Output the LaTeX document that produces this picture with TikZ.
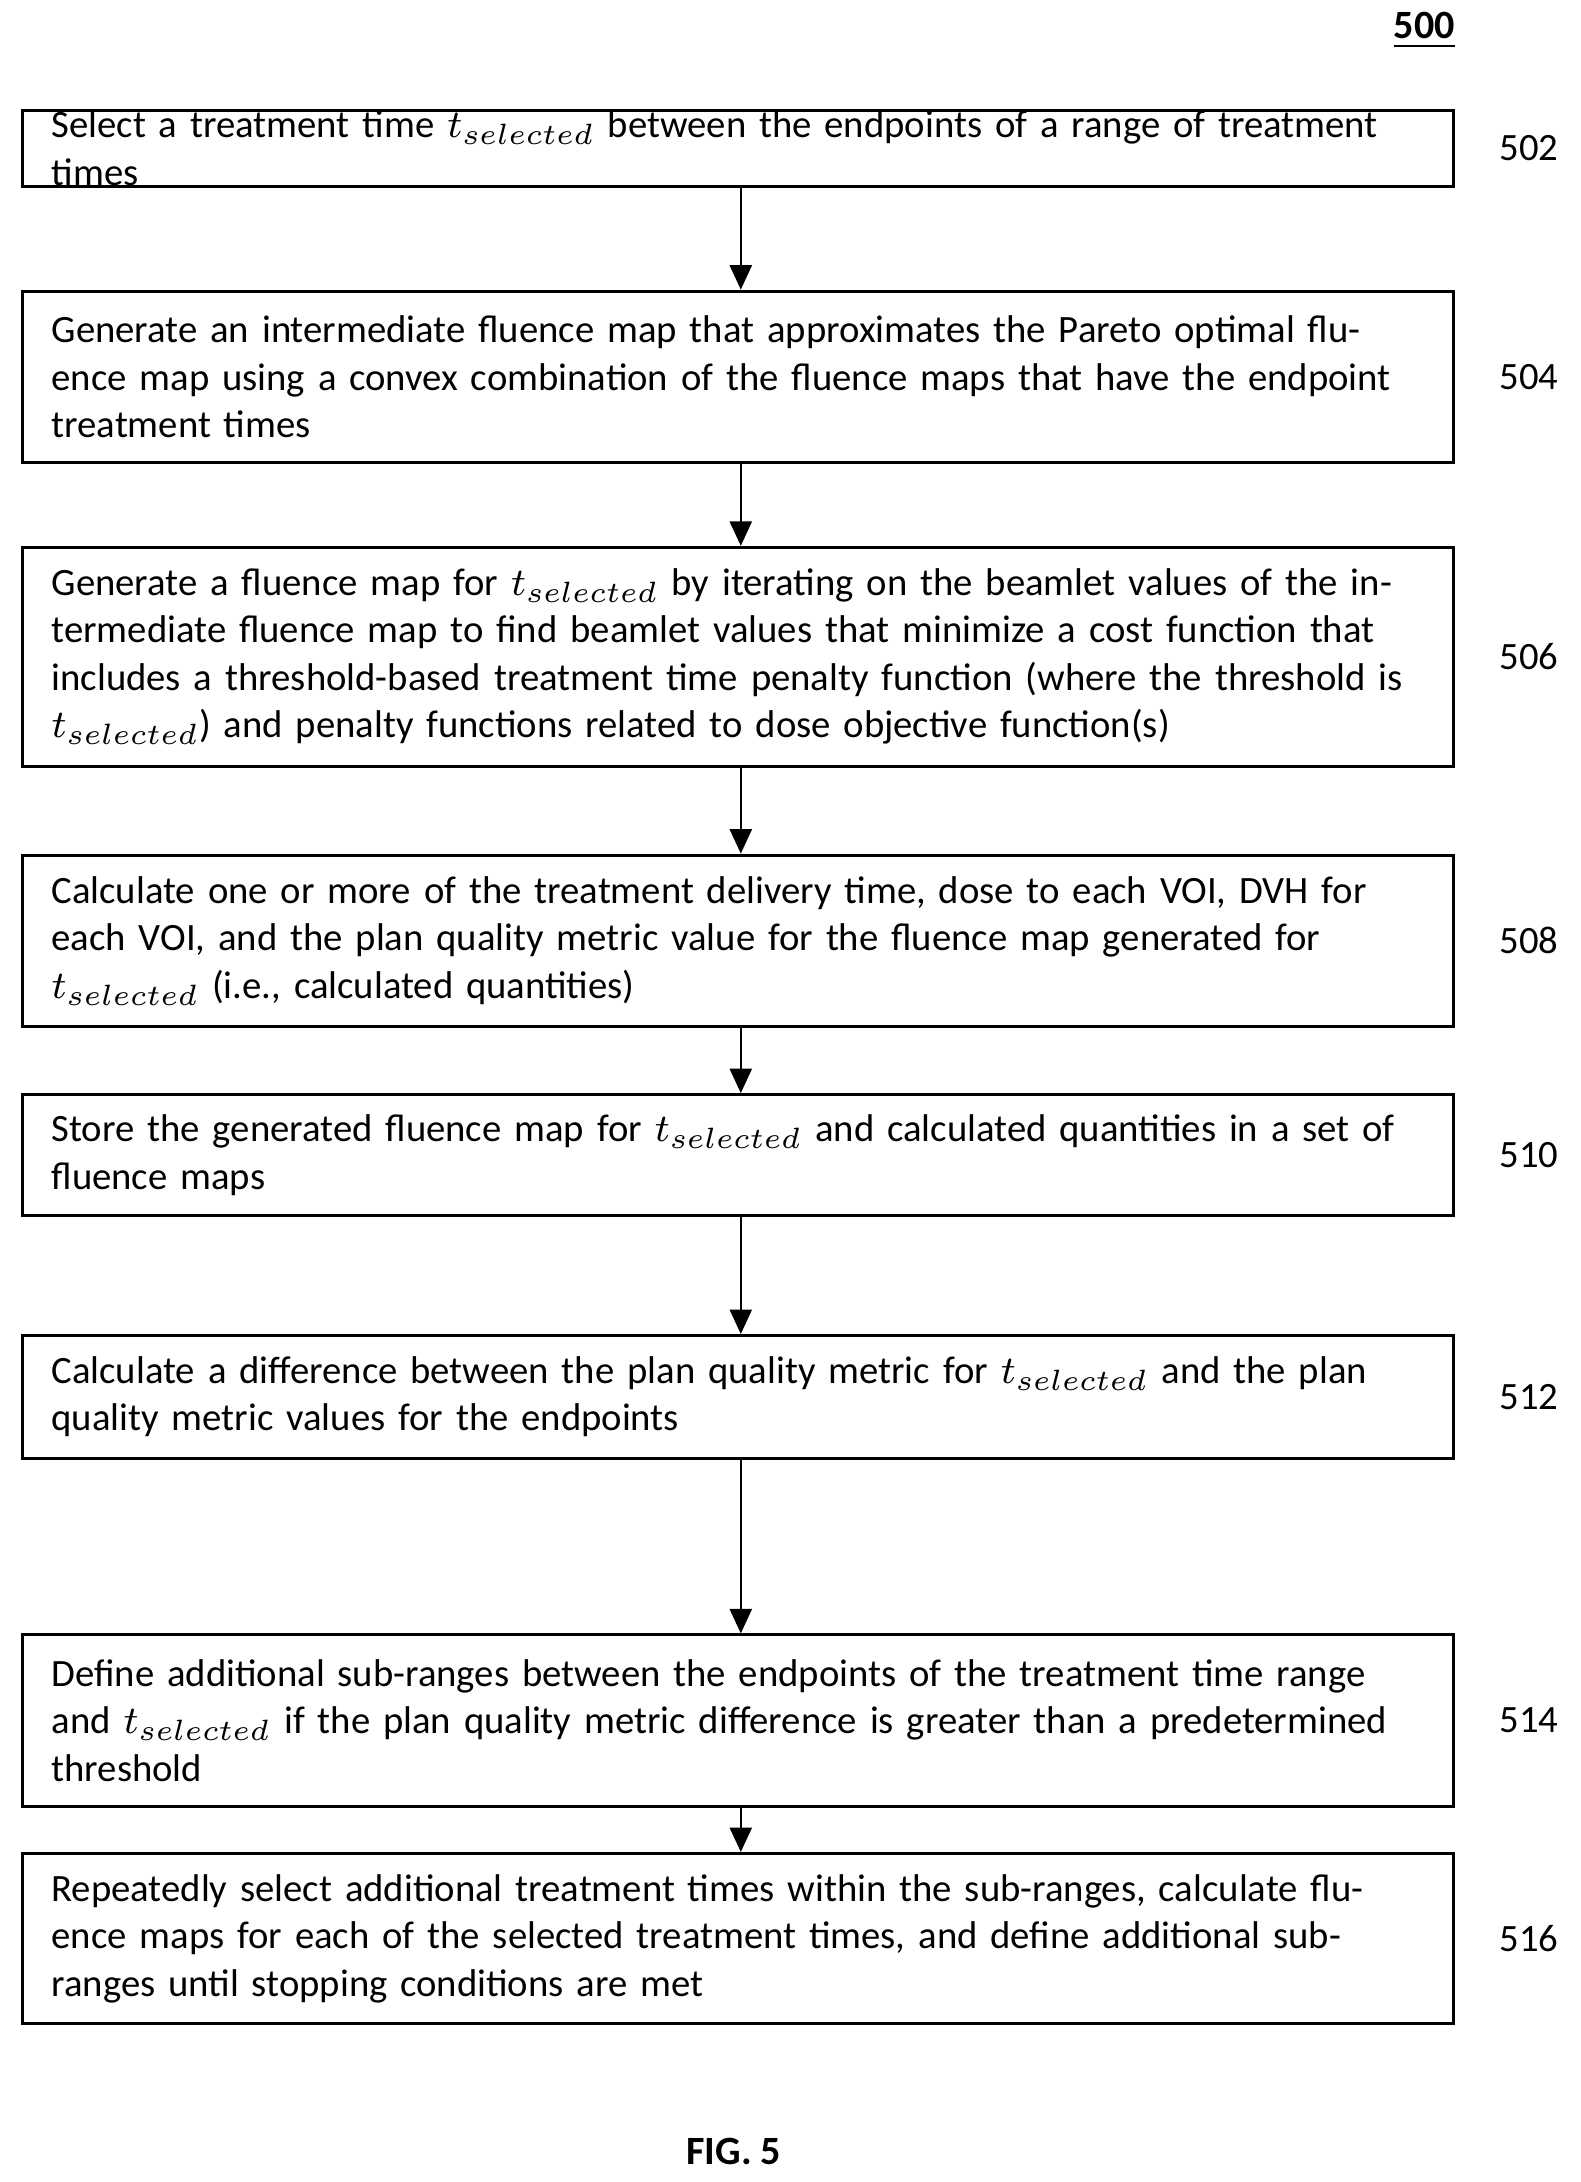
\documentclass[tikz,border=0pt]{standalone}
\usepackage{fontspec}
\setmainfont{Carlito}
\usetikzlibrary{arrows.meta}
\begin{document}
\begin{tikzpicture}[x=0.01cm,y=-0.01cm,
  box/.style={draw,line width=0.6pt,anchor=north west,text width=9.85cm,align=left,inner xsep=0.21cm,inner ysep=0pt,font=\fontsize{7.9}{9.7}\selectfont},
  num/.style={font=\fontsize{7.9}{9}\selectfont},
  flow/.style={-{Triangle[length=5pt,width=4.5pt]},line width=0.5pt}]
\useasboundingbox (0,0) rectangle (1135,1567);
\newcommand{\ts}{$t_{selected}$}
\node[box,minimum height=0.55cm] (s502) at (15,78) {Select a treatment time \ts{} between the endpoints of a range of treatment times};
\node[box,minimum height=1.23cm] (s504) at (15,208) {Generate an intermediate fluence map that approximates the Pareto optimal fluence map using a convex combination of the fluence maps that have the endpoint treatment times};
\node[box,minimum height=1.57cm] (s506) at (15,392) {Generate a fluence map for \ts{} by iterating on the beamlet values of the intermediate fluence map to find beamlet values that minimize a cost function that includes a threshold-based treatment time penalty function (where the threshold is \ts{}) and penalty functions related to dose objective function(s)};
\node[box,minimum height=1.23cm] (s508) at (15,613) {Calculate one or more of the treatment delivery time, dose to each VOI, DVH for each VOI, and the plan quality metric value for the fluence map generated for \ts{} (i.e., calculated quantities)};
\node[box,minimum height=0.87cm] (s510) at (15,785) {Store the generated fluence map for \ts{} and calculated quantities in a set of fluence maps};
\node[box,minimum height=0.88cm] (s512) at (15,958) {Calculate a difference between the plan quality metric for \ts{} and the plan quality metric values for the endpoints};
\node[box,minimum height=1.23cm] (s514) at (15,1173) {Define additional sub-ranges between the endpoints of the treatment time range and \ts{} if the plan quality metric difference is greater than a predetermined threshold};
\node[box,minimum height=1.22cm] (s516) at (15,1330) {Repeatedly select additional treatment times within the sub-ranges, calculate fluence maps for each of the selected treatment times, and define additional sub-ranges until stopping conditions are met};
% step numbers
\foreach \s in {502,504,506,508,510,512,514,516}
  \node[num] at (s\s.east -| 1098,0) {\s};
% arrows
\foreach \a/\b in {502/504,504/506,506/508,508/510,510/512,512/514,514/516}
  \draw[flow] (s\a.south -| 532,0) -- (s\b.north -| 532,0);
\node[font=\bfseries\fontsize{8.2}{10}\selectfont] (title) at (1023,22) {\underline{500}};
\node[font=\bfseries\fontsize{8.2}{10}\selectfont] (fig) at (527,1545) {FIG. 5};
\end{tikzpicture}
\end{document}
